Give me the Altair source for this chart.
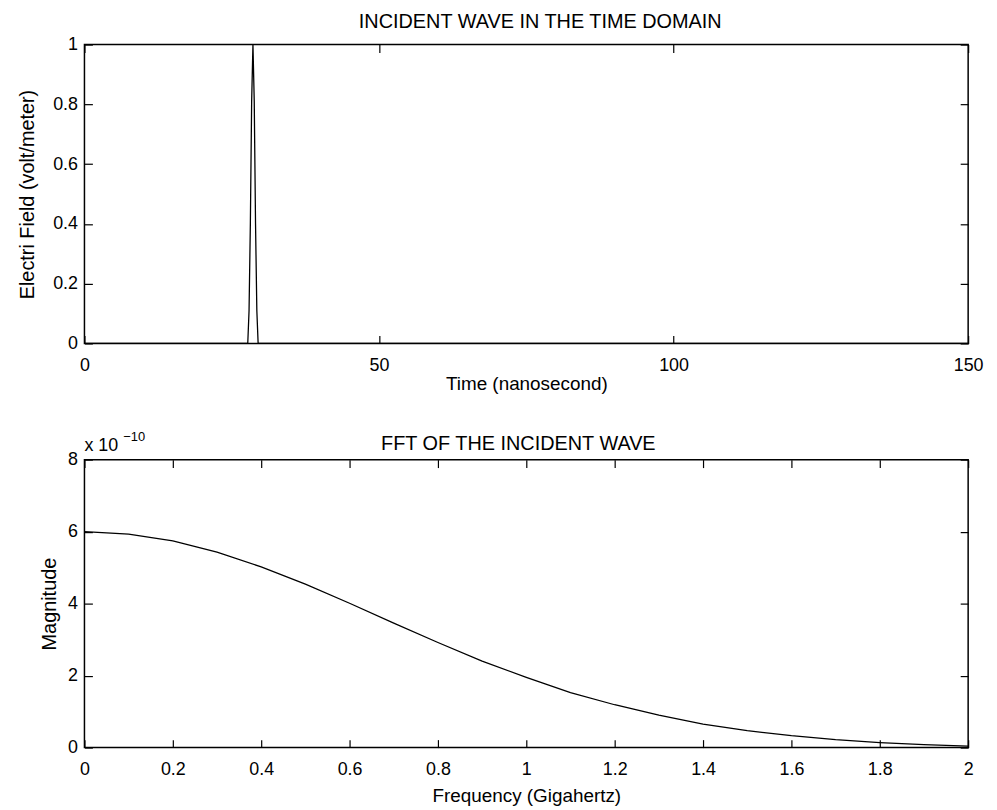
import altair as alt
import pandas as pd

# ---- data ----
time_ns = [0, 27.72, 27.94, 28.16, 28.38, 28.6, 28.82, 29.04, 29.26, 29.48, 150]
efield = [0, 0, 0.11, 0.40, 0.81, 1.0, 0.81, 0.40, 0.11, 0, 0]

freq_ghz = [0.0, 0.1, 0.2, 0.3, 0.4, 0.5, 0.6, 0.7, 0.8, 0.9, 1.0,
            1.1, 1.2, 1.3, 1.4, 1.5, 1.6, 1.7, 1.8, 1.9, 2.0]
magnitude_e10 = [6.00, 5.93, 5.74, 5.43, 5.02, 4.54, 4.01, 3.46, 2.92, 2.40, 1.95,
                 1.53, 1.19, 0.90, 0.65, 0.47, 0.33, 0.22, 0.14, 0.08, 0.04]

time_ticks = [0, 50, 100, 150]
efield_ticks = [0, 0.2, 0.4, 0.6, 0.8, 1.0]
freq_ticks = [0, 0.2, 0.4, 0.6, 0.8, 1.0, 1.2, 1.4, 1.6, 1.8, 2.0]
mag_ticks = [0, 2, 4, 6, 8]

titles_top = ["INCIDENT WAVE IN THE TIME DOMAIN"]
titles_bottom = ["FFT OF THE INCIDENT WAVE"]
exp_base = ["x 10"]
exp_power = ["\u221210"]

FONT = "Liberation Sans"
TICK = 8
W = 890
H_TOP = 301
H_BOT = 290

df_t = pd.DataFrame({"t": time_ns, "e": efield})
df_f = pd.DataFrame({"f": freq_ghz, "m": magnitude_e10})


def axis_main(title, values, orient, label_pad, title_pad, title_size):
    return alt.Axis(title=title, values=values, orient=orient, offset=-TICK, tickSize=TICK,
                    labelPadding=label_pad, titlePadding=title_pad, domain=False, grid=False,
                    tickColor="black", labelColor="black", titleColor="black",
                    labelFont=FONT, titleFont=FONT, labelFontSize=18, titleFontSize=title_size,
                    titleFontWeight="normal", tickWidth=1.2, labelFlush=False, format="~r")


def axis_mirror(values, orient):
    return alt.Axis(title=None, values=values, orient=orient, offset=-TICK, tickSize=TICK,
                    labels=False, domain=False, grid=False, tickColor="black", tickWidth=1.2)


def layers(df, xf, yf, xdom, ydom, xt, yt, xtitle, ytitle, xlp, xtp, ytp):
    base = alt.Chart(df)
    line = base.mark_line(color="black", strokeWidth=1.3, clip=True).encode(
        x=alt.X(f"{xf}:Q", scale=alt.Scale(domain=xdom, nice=False, zero=False),
                axis=axis_main(xtitle, xt, "bottom", xlp, xtp, 19)),
        y=alt.Y(f"{yf}:Q", scale=alt.Scale(domain=ydom, nice=False, zero=False),
                axis=axis_main(ytitle, yt, "left", 7, ytp, 20)),
    )
    mirror = base.mark_line(opacity=0).encode(
        x=alt.X(f"{xf}:Q", axis=axis_mirror(xt, "top")),
        y=alt.Y(f"{yf}:Q", axis=axis_mirror(yt, "right")),
    )
    return line, mirror


def title_text(texts, xpix, ypix):
    return alt.Chart(pd.DataFrame({"s": texts})).mark_text(
        align="center", baseline="alphabetic", font=FONT, fontSize=20, color="black"
    ).encode(x=alt.value(xpix), y=alt.value(ypix), text="s:N")


top_line, top_mirror = layers(df_t, "t", "e", [0, 150], [0, 1], time_ticks, efield_ticks,
                              "Time (nanosecond)", "Electri Field (volt/meter)", 13, 0, 15)
top = alt.layer(top_line, top_mirror, title_text(titles_top, W / 2 + 14, -17)).resolve_axis(
    x="independent", y="independent").properties(width=W, height=H_TOP)

bot_line, bot_mirror = layers(df_f, "f", "m", [0, 2], [0, 8], freq_ticks, mag_ticks,
                              "Frequency (Gigahertz)", "Magnitude", 13, 8, 8)

exp_df = pd.DataFrame({"b": exp_base, "p": exp_power})
exp_b = alt.Chart(exp_df).mark_text(align="left", baseline="alphabetic", font=FONT,
                                    fontSize=18, color="black").encode(
    x=alt.value(0), y=alt.value(-9), text="b:N")
exp_p = alt.Chart(exp_df).mark_text(align="left", baseline="alphabetic", font=FONT,
                                    fontSize=13, color="black").encode(
    x=alt.value(39), y=alt.value(-19), text="p:N")

bottom = alt.layer(bot_line, bot_mirror, title_text(titles_bottom, W / 2 - 8, -10),
                   exp_b, exp_p).resolve_axis(
    x="independent", y="independent").properties(width=W, height=H_BOT)

chart = alt.vconcat(top, bottom, spacing=36).properties(
    padding={"left": 9, "top": 0, "right": 5, "bottom": 0}
).configure(background="white").configure_view(stroke="black", strokeWidth=1.5)

chart.save("out.html", embed_options={"renderer": "svg", "actions": False})
